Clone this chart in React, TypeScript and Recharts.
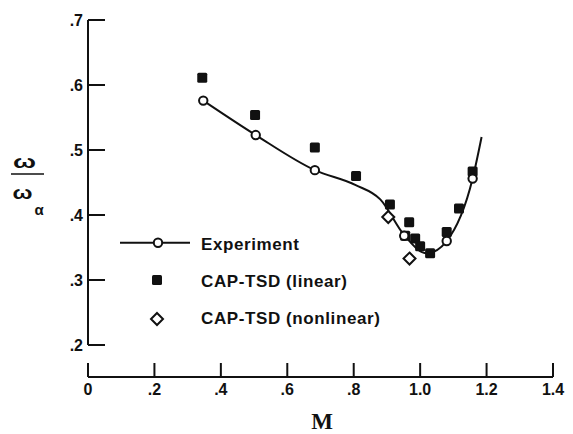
import React from 'react';
import {
  ComposedChart,
  Line,
  Scatter,
  XAxis,
  YAxis,
  ReferenceLine,
} from 'recharts';

// Mach number vs. frequency ratio
const experimentM = [0.347, 0.505, 0.683, 0.952, 1.08, 1.158];
const experimentW = [0.576, 0.523, 0.469, 0.368, 0.36, 0.456];

const fitM = [0.347, 0.505, 0.683, 0.806, 0.88, 0.952, 1.02, 1.08, 1.158, 1.185];
const fitW = [0.576, 0.523, 0.469, 0.446, 0.424, 0.369, 0.341, 0.36, 0.456, 0.52];

const linearM = [0.344, 0.503, 0.683, 0.807, 0.909, 0.967, 0.955, 0.985, 1.0, 1.03, 1.08, 1.117, 1.158];
const linearW = [0.611, 0.554, 0.504, 0.46, 0.416, 0.389, 0.368, 0.364, 0.352, 0.341, 0.374, 0.41, 0.467];

const nonlinearM = [0.904, 0.968];
const nonlinearW = [0.397, 0.333];

const xTicks = [0, 0.2, 0.4, 0.6, 0.8, 1.0, 1.2, 1.4];
const xTickLabels = ['0', '.2', '.4', '.6', '.8', '1.0', '1.2', '1.4'];
const yTicks = [0.2, 0.3, 0.4, 0.5, 0.6, 0.7];
const yTickLabels = ['.2', '.3', '.4', '.5', '.6', '.7'];

const zip = (xs: number[], ys: number[]) => xs.map((x, i) => ({ x, y: ys[i] }));

const experiment = zip(experimentM, experimentW);
const fit = zip(fitM, fitW);
const linear = zip(linearM, linearW);
const nonlinear = zip(nonlinearM, nonlinearW);

const FONT = '"Liberation Sans", Arial, sans-serif';
const INK = '#111';

const OpenCircle = (p: any) => (
  <circle cx={p.cx} cy={p.cy} r={4.2} fill="#fff" stroke={INK} strokeWidth={2} />
);
const FilledSquare = (p: any) => (
  <rect x={p.cx - 5} y={p.cy - 5} width={10} height={10} rx={1.5} fill={INK} />
);
const OpenDiamond = (p: any) => (
  <polygon
    points={`${p.cx},${p.cy - 6} ${p.cx + 6},${p.cy} ${p.cx},${p.cy + 6} ${p.cx - 6},${p.cy}`}
    fill="#fff"
    stroke={INK}
    strokeWidth={2}
  />
);

const XTick = (props: any) => {
  const { x, y, payload } = props;
  const i = xTicks.indexOf(payload.value);
  return (
    <g>
      <line x1={x} y1={y} x2={x} y2={y - 14} stroke={INK} strokeWidth={2} />
      <text x={x} y={y + 18} textAnchor="middle" fontFamily={FONT} fontWeight="bold" fontSize={16} fill={INK}>
        {xTickLabels[i]}
      </text>
    </g>
  );
};

const YTick = (props: any) => {
  const { x, y, payload } = props;
  const i = yTicks.indexOf(payload.value);
  return (
    <g>
      <line x1={x} y1={y} x2={x + 17} y2={y} stroke={INK} strokeWidth={2} />
      <text x={x - 5} y={y + 6} textAnchor="end" fontFamily={FONT} fontWeight="bold" fontSize={16} fill={INK}>
        {yTickLabels[i]}
      </text>
    </g>
  );
};

const legendText = { fontFamily: FONT, fontWeight: 'bold' as const, fontSize: 17, letterSpacing: 0.6, fill: INK };

const LegendBox = () => (
  <svg width={300} height={120} style={{ position: 'absolute', left: 110, top: 228 }}>
    <line x1={10} y1={14.7} x2={80} y2={14.7} stroke={INK} strokeWidth={2} />
    <OpenCircle cx={48} cy={14.7} />
    <text x={91} y={22} {...legendText}>Experiment</text>
    <FilledSquare cx={47} cy={52} />
    <text x={91} y={59} {...legendText}>CAP-TSD (linear)</text>
    <OpenDiamond cx={47} cy={91} />
    <text x={91} y={96} {...legendText}>CAP-TSD (nonlinear)</text>
  </svg>
);

export default function App() {
  return (
    <div style={{ position: 'absolute', left: 0, top: 0, width: 573, height: 434, background: '#fff' }}>
      <ComposedChart width={573} height={434} margin={{ top: 20, right: 20, left: 0, bottom: 0 }}>
        <XAxis
          type="number"
          dataKey="x"
          domain={[0, 1.4]}
          ticks={xTicks}
          height={57}
          tickSize={0}
          tickMargin={0}
          tickLine={false}
          axisLine={{ stroke: INK, strokeWidth: 2 }}
          tick={<XTick />}
          interval={0}
          allowDataOverflow
        />
        <YAxis
          type="number"
          dataKey="y"
          domain={[0.1508, 0.7]}
          ticks={yTicks}
          width={88}
          tickSize={0}
          tickMargin={0}
          tickLine={false}
          axisLine={false}
          tick={<YTick />}
          interval={0}
          allowDataOverflow
        />
        <ReferenceLine
          segment={[{ x: 0, y: 0.2 }, { x: 0, y: 0.7 }]}
          stroke={INK}
          strokeWidth={2}
          ifOverflow="visible"
        />
        <Line data={fit} dataKey="y" type="monotone" stroke={INK} strokeWidth={2} dot={false} isAnimationActive={false} />
        <Scatter data={linear} dataKey="y" shape={<FilledSquare />} isAnimationActive={false} />
        <Scatter data={nonlinear} dataKey="y" shape={<OpenDiamond />} isAnimationActive={false} />
        <Scatter data={experiment} dataKey="y" shape={<OpenCircle />} isAnimationActive={false} />
      </ComposedChart>
      <LegendBox />
      <svg
        width={573}
        height={434}
        style={{ position: 'absolute', left: 0, top: 0, pointerEvents: 'none' }}
      >
        <text x={24.5} y={168} textAnchor="middle" fontFamily={FONT} fontWeight="bold" fontSize={19} textLength={23} lengthAdjust="spacingAndGlyphs" fill={INK}>ω</text>
        <line x1={11} y1={174} x2={44} y2={174} stroke={INK} strokeWidth={1.5} />
        <text x={22.5} y={199} textAnchor="middle" fontFamily={FONT} fontWeight="bold" fontSize={19} textLength={20} lengthAdjust="spacingAndGlyphs" fill={INK}>ω</text>
        <text x={39} y={215} textAnchor="middle" fontFamily={FONT} fontWeight="bold" fontSize={15} fill={INK}>α</text>
        <text x={322} y={429} textAnchor="middle" fontFamily='"Liberation Serif", "DejaVu Serif", serif' fontWeight="bold" fontSize={23} fill={INK}>M</text>
      </svg>
    </div>
  );
}
